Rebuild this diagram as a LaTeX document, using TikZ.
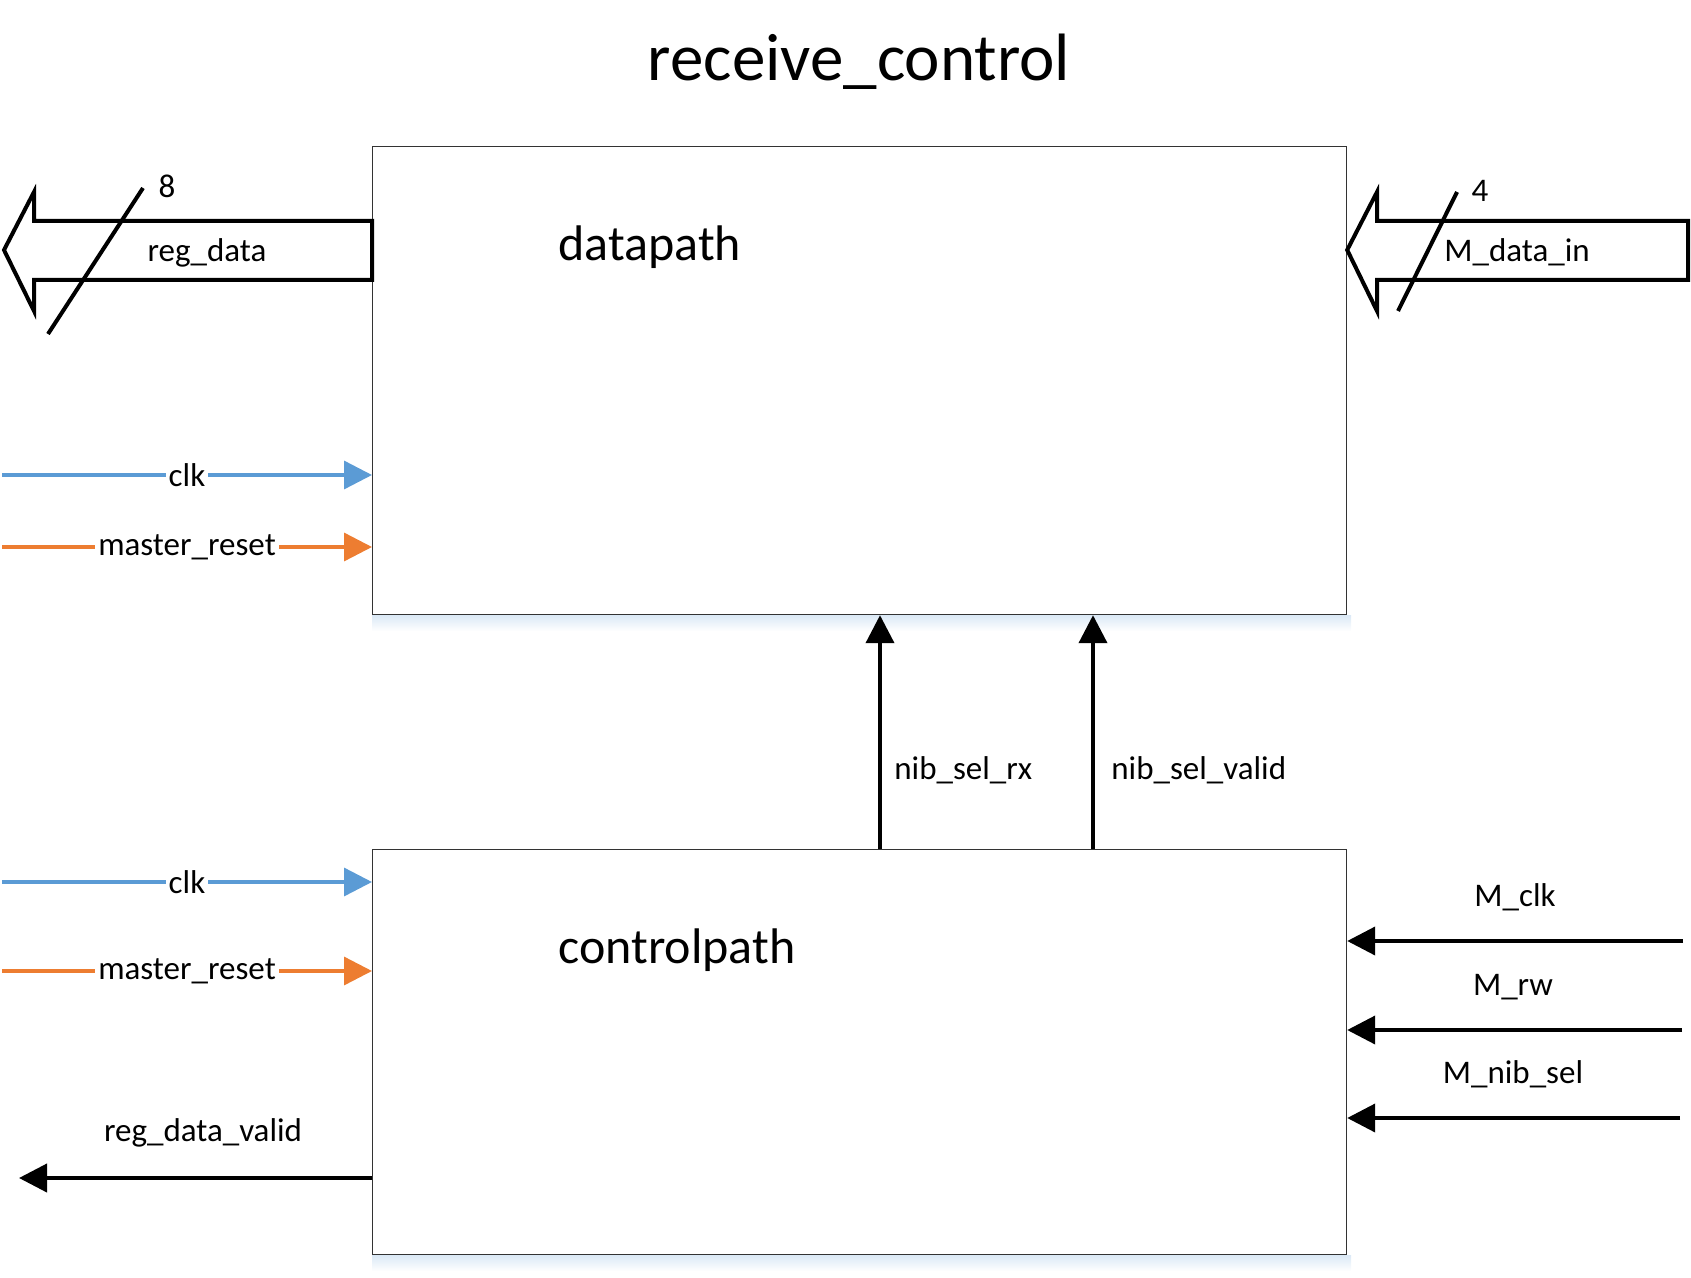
\documentclass[tikz,border=0pt]{standalone}
\usepackage{fontspec}
\setmainfont{Carlito}
\usetikzlibrary{arrows.meta,positioning,backgrounds}
\usepackage{xcolor}
\definecolor{clkblue}{HTML}{5B9BD5}
\definecolor{rstorange}{HTML}{ED7D31}

\tikzset{
    block/.style={draw=black!80, line width=0.6pt, inner sep=0pt, anchor=north west},
    sig/.style={line width=2pt, -{Triangle[length=14pt,width=14pt]}},
    clkline/.style={sig, line width=1.7pt, clkblue},
    rstline/.style={sig, line width=1.7pt, rstorange},
    bus/.style={line width=2pt, line join=miter},
    lbl/.style={font=\fontsize{16.5}{19}\selectfont, inner sep=0pt},
    onwire/.style={lbl, fill=white, inner xsep=1.5pt, inner ysep=1pt, text=black},
    namelbl/.style={font=\fontsize{25}{29}\selectfont, inner sep=0pt},
    titlelbl/.style={font=\fontsize{33.5}{39}\selectfont, inner sep=0pt}
}

\begin{document}
\begin{tikzpicture}[x=0.5pt, y=-0.5pt]
        \useasboundingbox (0,0) rectangle (1691,1278);

        % Title
        \node[titlelbl, anchor=base] (title) at (859,81) {receive\_control};

        % The two blocks
        \node[block, minimum width=487pt, minimum height=234pt] (dp) at (372,146) {};
        \node[block, minimum width=487pt, minimum height=202.5pt] (cp) at (372,849) {};
        \node[namelbl, anchor=base west] (dpname) at (558,261) {datapath};
        \node[namelbl, anchor=base west] (cpname) at (558,963) {controlpath};

        % Soft shadow under the blocks
        \begin{scope}[on background layer]
            \shade[top color=clkblue!22, bottom color=white] (dp.south west) rectangle ([shift={(4,16)}]dp.south east);
            \shade[top color=clkblue!22, bottom color=white] (cp.south west) rectangle ([shift={(4,16)}]cp.south east);
        \end{scope}

        % reg_data bus (out of datapath)
        \draw[bus] (dp.west |- 0,221) -- (34,221) -- (34,192) -- (4,250) -- (34,311) -- (34,280) -- (dp.west |- 0,280) -- cycle;
        \draw[bus] (48,334) -- (143,188);
        \node[lbl, anchor=base] (w8) at (167,198) {8};
        \node[lbl, anchor=base] (regdata) at (207,262) {reg\_data};

        % M_data_in bus (into datapath)
        \draw[bus] (1688,221) -- (1377,221) -- (1377,192) -- (dp.east |- 0,250) -- (1377,311) -- (1377,280) -- (1688,280) -- cycle;
        \draw[bus] (1398,311) -- (1457,192);
        \node[lbl, anchor=base] (w4) at (1480,202) {4};
        \node[lbl, anchor=base] (mdatain) at (1517,262) {M\_data\_in};

        % Clock and reset of datapath
        \coordinate (dpclk) at (2,475);
        \coordinate (dprst) at (2,547);
        \draw[clkline] (dpclk) -- (dpclk -| dp.west) node[onwire, midway] (dpclklbl) {clk};
        \draw[rstline] (dprst) -- (dprst -| dp.west) node[onwire, midway] (dprstlbl) {master\_reset};

        % Clock and reset of controlpath
        \coordinate (cpclk) at (2,882);
        \coordinate (cprst) at (2,971);
        \draw[clkline] (cpclk) -- (cpclk -| cp.west) node[onwire, midway] (cpclklbl) {clk};
        \draw[rstline] (cprst) -- (cprst -| cp.west) node[onwire, midway] (cprstlbl) {master\_reset};

        % controlpath to datapath
        \draw[sig] (cp.north -| 880,0) -- (dp.south -| 880,0);
        \draw[sig] (cp.north -| 1093,0) -- (dp.south -| 1093,0);
        \node[lbl, anchor=base west] (selrx) at (894,779) {nib\_sel\_rx};
        \node[lbl, anchor=base west] (selvalid) at (1111,779) {nib\_sel\_valid};

        % Inputs of controlpath
        \coordinate (mclk) at (1683,941);
        \coordinate (mrw) at (1682,1030);
        \coordinate (mnib) at (1680,1118);
        \draw[sig] (mclk) -- (mclk -| cp.east);
        \draw[sig] (mrw) -- (mrw -| cp.east);
        \draw[sig] (mnib) -- (mnib -| cp.east);
        \node[lbl, anchor=base] (mclklbl) at (1515,906) {M\_clk};
        \node[lbl, anchor=base] (mrwlbl) at (1513,995) {M\_rw};
        \node[lbl, anchor=base] (mniblbl) at (1513,1083) {M\_nib\_sel};

        % Output of controlpath
        \coordinate (rdv) at (19,1178);
        \draw[sig] (rdv -| cp.west) -- (rdv);
        \node[lbl, anchor=base] (rdvlbl) at (203,1141) {reg\_data\_valid};

    \end{tikzpicture}
\end{document}
